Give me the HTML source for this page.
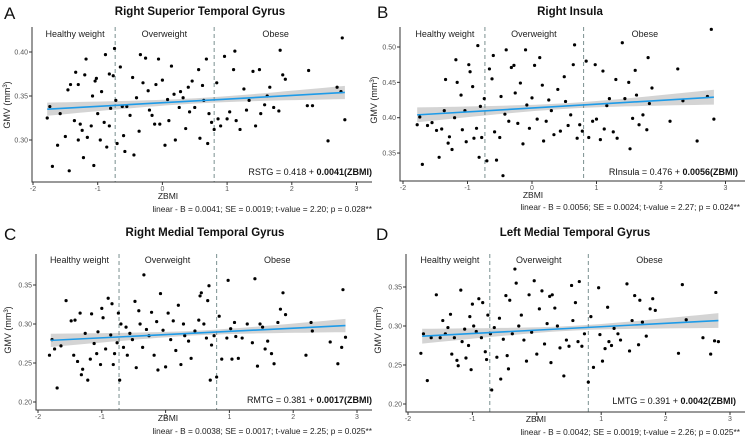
<!DOCTYPE html>
<html><head><meta charset="utf-8"><style>
html,body{margin:0;padding:0;background:#fff;}
svg{display:block;font-family:"Liberation Sans",Arial,sans-serif;}
</style></head><body>
<svg id="fig" width="746" height="442" viewBox="0 0 746 442" xmlns="http://www.w3.org/2000/svg"></svg>
<script>
const xTicks=[-2,-1,0,1,2,3];
const cutoffs=[-0.73,0.8];
const regionLabels=["Healthy weight","Overweight","Obese"];
const regionLabelX=[-1.35,0.03,1.75];
// Panel A
const aX=[-1.78,-1.74,-1.7,-1.62,-1.58,-1.5,-1.46,-1.44,-1.42,-1.36,-1.34,-1.3,-1.3,-1.27,-1.24,-1.22,-1.2,-1.18,-1.16,-1.1,-1.08,-1.06,-1.04,-1.02,-1.0,-0.96,-0.94,-0.9,-0.88,-0.86,-0.82,-0.82,-0.8,-0.76,-0.74,-0.72,-0.7,-0.65,-0.62,-0.6,-0.58,-0.55,-0.5,-0.46,-0.44,-0.4,-0.36,-0.34,-0.3,-0.26,-0.22,-0.2,-0.16,-0.12,-0.1,-0.06,-0.04,0.0,0.04,0.08,0.1,0.14,0.18,0.2,0.26,0.28,0.32,0.36,0.4,0.42,0.46,0.5,0.56,0.58,0.62,0.64,0.68,0.7,0.72,0.76,0.8,0.84,0.86,0.9,0.96,1.0,1.04,1.1,1.12,1.14,1.2,1.26,1.3,1.34,1.4,1.44,1.5,1.52,1.58,1.62,1.66,1.72,1.8,1.82,1.86,1.9,2.24,2.26,2.32,2.56,2.7,2.76,2.78,2.82];
const aY=[0.325,0.338,0.270,0.294,0.330,0.304,0.357,0.265,0.363,0.322,0.377,0.300,0.363,0.318,0.311,0.280,0.374,0.392,0.303,0.316,0.350,0.271,0.367,0.370,0.330,0.300,0.355,0.320,0.397,0.292,0.375,0.316,0.336,0.373,0.404,0.345,0.296,0.383,0.338,0.305,0.287,0.338,0.328,0.371,0.283,0.348,0.310,0.397,0.365,0.393,0.356,0.334,0.328,0.318,0.363,0.392,0.318,0.368,0.294,0.346,0.322,0.384,0.352,0.300,0.337,0.355,0.348,0.313,0.360,0.332,0.367,0.337,0.380,0.302,0.362,0.345,0.392,0.296,0.330,0.320,0.312,0.365,0.324,0.316,0.395,0.324,0.332,0.380,0.401,0.322,0.312,0.358,0.334,0.345,0.378,0.316,0.380,0.330,0.340,0.350,0.360,0.337,0.333,0.402,0.374,0.369,0.339,0.379,0.339,0.299,0.360,0.355,0.416,0.323];
// Panel B
const bX=[-1.78,-1.74,-1.7,-1.62,-1.55,-1.48,-1.44,-1.4,-1.36,-1.34,-1.3,-1.28,-1.24,-1.2,-1.18,-1.16,-1.1,-1.08,-1.04,-1.02,-0.98,-0.96,-0.92,-0.9,-0.86,-0.84,-0.82,-0.8,-0.78,-0.74,-0.7,-0.66,-0.62,-0.6,-0.58,-0.55,-0.5,-0.48,-0.45,-0.42,-0.4,-0.36,-0.32,-0.28,-0.26,-0.22,-0.18,-0.14,-0.1,-0.08,-0.04,0.0,0.04,0.08,0.12,0.16,0.18,0.22,0.26,0.3,0.34,0.4,0.44,0.5,0.52,0.56,0.6,0.64,0.66,0.7,0.74,0.78,0.84,0.88,0.94,0.98,1.0,1.06,1.1,1.12,1.16,1.2,1.26,1.3,1.32,1.4,1.44,1.5,1.52,1.56,1.6,1.62,1.66,1.72,1.78,1.8,1.82,1.86,2.14,2.26,2.34,2.56,2.72,2.78,2.82];
const bY=[0.390,0.401,0.334,0.389,0.393,0.382,0.344,0.384,0.410,0.454,0.364,0.373,0.355,0.400,0.482,0.450,0.432,0.383,0.410,0.366,0.475,0.465,0.444,0.371,0.385,0.502,0.344,0.416,0.372,0.427,0.339,0.469,0.455,0.488,0.380,0.340,0.372,0.430,0.318,0.405,0.496,0.395,0.471,0.474,0.435,0.392,0.449,0.363,0.496,0.418,0.385,0.428,0.474,0.398,0.485,0.446,0.367,0.395,0.425,0.410,0.376,0.440,0.381,0.458,0.423,0.389,0.404,0.475,0.503,0.371,0.390,0.381,0.480,0.372,0.395,0.475,0.398,0.369,0.466,0.384,0.417,0.427,0.380,0.454,0.371,0.506,0.427,0.450,0.356,0.399,0.467,0.432,0.390,0.404,0.383,0.485,0.420,0.442,0.395,0.469,0.424,0.367,0.430,0.525,0.398];
// Panel C
const cX=[-1.82,-1.78,-1.74,-1.7,-1.64,-1.56,-1.48,-1.44,-1.42,-1.38,-1.34,-1.32,-1.3,-1.26,-1.22,-1.18,-1.16,-1.12,-1.08,-1.06,-1.02,-1.0,-0.98,-0.94,-0.9,-0.86,-0.84,-0.82,-0.8,-0.76,-0.74,-0.72,-0.7,-0.66,-0.62,-0.6,-0.56,-0.52,-0.48,-0.46,-0.42,-0.4,-0.36,-0.34,-0.3,-0.26,-0.22,-0.18,-0.14,-0.12,-0.08,-0.04,0.0,0.04,0.08,0.12,0.16,0.2,0.24,0.28,0.3,0.36,0.4,0.46,0.52,0.54,0.56,0.6,0.64,0.66,0.68,0.7,0.72,0.76,0.8,0.84,0.88,0.96,0.98,1.02,1.04,1.08,1.1,1.14,1.2,1.28,1.36,1.4,1.44,1.48,1.52,1.56,1.6,1.66,1.7,1.76,1.8,1.84,1.88,2.2,2.28,2.3,2.58,2.7,2.76,2.78,2.82];
const cY=[0.260,0.280,0.268,0.218,0.272,0.330,0.304,0.260,0.305,0.252,0.314,0.235,0.242,0.288,0.228,0.255,0.313,0.275,0.262,0.290,0.248,0.320,0.308,0.268,0.333,0.286,0.326,0.248,0.262,0.276,0.314,0.228,0.300,0.270,0.296,0.260,0.288,0.280,0.329,0.244,0.317,0.300,0.270,0.363,0.293,0.285,0.315,0.260,0.303,0.241,0.339,0.292,0.245,0.314,0.280,0.304,0.266,0.324,0.248,0.300,0.285,0.278,0.256,0.291,0.305,0.336,0.340,0.300,0.282,0.330,0.349,0.228,0.273,0.285,0.232,0.310,0.255,0.282,0.356,0.294,0.255,0.302,0.284,0.256,0.282,0.300,0.276,0.358,0.246,0.300,0.296,0.268,0.278,0.262,0.249,0.302,0.319,0.340,0.312,0.260,0.302,0.291,0.277,0.249,0.270,0.344,0.283];
// Panel D
const dX=[-1.8,-1.76,-1.7,-1.64,-1.56,-1.5,-1.46,-1.42,-1.38,-1.34,-1.32,-1.28,-1.24,-1.22,-1.18,-1.16,-1.12,-1.1,-1.06,-1.04,-1.02,-1.0,-0.98,-0.94,-0.9,-0.86,-0.84,-0.8,-0.78,-0.76,-0.72,-0.7,-0.66,-0.62,-0.58,-0.56,-0.52,-0.48,-0.46,-0.44,-0.42,-0.38,-0.34,-0.32,-0.28,-0.24,-0.2,-0.16,-0.12,-0.08,-0.04,0.0,0.04,0.08,0.12,0.16,0.2,0.22,0.24,0.28,0.32,0.36,0.42,0.46,0.5,0.54,0.56,0.6,0.64,0.66,0.7,0.74,0.8,0.84,0.88,0.96,0.98,1.02,1.06,1.1,1.12,1.16,1.2,1.26,1.3,1.4,1.44,1.48,1.52,1.58,1.6,1.64,1.7,1.76,1.8,1.84,2.2,2.26,2.32,2.58,2.7,2.76,2.78,2.82];
const dY=[0.265,0.290,0.230,0.285,0.340,0.285,0.307,0.290,0.298,0.315,0.264,0.285,0.256,0.249,0.346,0.280,0.296,0.259,0.275,0.312,0.244,0.328,0.300,0.293,0.335,0.285,0.330,0.267,0.257,0.314,0.290,0.218,0.298,0.260,0.310,0.232,0.283,0.339,0.262,0.245,0.333,0.290,0.373,0.355,0.300,0.314,0.282,0.255,0.340,0.292,0.358,0.264,0.322,0.345,0.277,0.303,0.338,0.253,0.340,0.323,0.300,0.272,0.236,0.282,0.274,0.352,0.307,0.330,0.280,0.357,0.274,0.290,0.228,0.312,0.247,0.349,0.289,0.255,0.271,0.324,0.280,0.275,0.297,0.290,0.282,0.354,0.268,0.307,0.339,0.276,0.333,0.305,0.287,0.322,0.335,0.320,0.265,0.353,0.308,0.285,0.264,0.281,0.343,0.280];
const fitA=[[-1.78,2.82],[0.335,0.354],[0.0075,0.003]];
const fitB=[[-1.78,2.82],[0.404,0.429],[0.0105,0.004]];
const fitC=[[-1.8,2.82],[0.279,0.298],[0.0085,0.003]];
const fitD=[[-1.78,2.82],[0.287,0.307],[0.0095,0.003]];
const yTicksA=[0.30,0.35,0.40], yTicksB=[0.35,0.40,0.45,0.50], yTicksCD=[0.20,0.25,0.30,0.35];

const NS="http://www.w3.org/2000/svg";
const svg=document.getElementById('fig');
function mk(tag,attrs,parent,text){const e=document.createElementNS(NS,tag);for(const k in attrs)e.setAttribute(k,attrs[k]);if(text!==undefined)e.textContent=text;(parent||svg).appendChild(e);return e;}

const panels=[
 {id:'a',letter:'A',title:'Right Superior Temporal Gyrus',xs:aX,ys:aY,fit:fitA,yt:yTicksA,x0:33,xu:64.7,left:32,right:372,axY:182,top:27,y0:52,yv:0.40,yu:880,lx:4,ly:19,tx:200,ty:15,regY:37,eq:['RSTG = 0.418 + ','0.0041(ZBMI)'],eqX:372,eqY:175,zx:168,zy:199,lin:'linear - B = 0.0041; SE = 0.0019; t-value = 2.20; p = 0.028**',linX:372,linY:212,ytx:10,yty:105},
 {id:'b',letter:'B',title:'Right Insula',xs:bX,ys:bY,fit:fitB,yt:yTicksB,x0:403,xu:64.5,left:400,right:745,axY:181,top:27,y0:47,yv:0.50,yu:707,lx:377,ly:18,tx:570,ty:15,regY:37,eq:['RInsula = 0.476 + ','0.0056(ZBMI)'],eqX:738,eqY:175,zx:533,zy:198,lin:'linear - B = 0.0056; SE = 0.0024; t-value = 2.27; p = 0.024**',linX:740,linY:210,ytx:377,yty:100},
 {id:'c',letter:'C',title:'Right Medial Temporal Gyrus',xs:cX,ys:cY,fit:fitC,yt:yTicksCD,x0:38,xu:63.8,left:36,right:372,axY:410,top:254,y0:324,yv:0.30,yu:780,lx:4,ly:240,tx:205,ty:236,regY:263,eq:['RMTG  = 0.381 + ','0.0017(ZBMI)'],eqX:372,eqY:403,zx:168,zy:421,lin:'linear - B = 0.0038; SE = 0.0017; t-value = 2.25; p = 0.025**',linX:372,linY:434,ytx:11,yty:330},
 {id:'d',letter:'D',title:'Left Medial Temporal Gyrus',xs:dX,ys:dY,fit:fitD,yt:yTicksCD,x0:408,xu:64.4,left:406,right:745,axY:412,top:254,y0:326,yv:0.30,yu:780,lx:376,ly:240,tx:575,ty:236,regY:263,eq:['LMTG  = 0.391 + ','0.0042(ZBMI)'],eqX:736,eqY:404,zx:536,zy:422,lin:'linear - B = 0.0042; SE = 0.0019; t-value = 2.26; p = 0.025**',linX:740,linY:435,ytx:381,yty:330}
];

panels.forEach(p=>{
 const X=v=>p.x0+(v+2)*p.xu;
 const Y=v=>p.y0+(p.yv-v)*p.yu;
 const g=mk('g',{});
 
 
 const L=mk('text',{x:p.lx,y:p.ly,'font-size':17,fill:'#111'},g,p.letter);
 
 const T=mk('text',{x:p.tx,y:p.ty,'font-size':11.5,'font-weight':'bold','text-anchor':'middle',fill:'#111'},g,p.title);
 
 const f=p.fit, n=30; let up=[],dn=[];
 for(let i=0;i<=n;i++){const t=i/n;const xv=f[0][0]+(f[0][1]-f[0][0])*t;const yv=f[1][0]+(f[1][1]-f[1][0])*t;
  const mid=(f[0][0]+f[0][1])/2, hw=(f[0][1]-f[0][0])/2;const r=(xv-mid)/hw;const h=Math.sqrt(f[2][1]*f[2][1]+(f[2][0]*f[2][0]-f[2][1]*f[2][1])*r*r);
  up.push(X(xv).toFixed(1)+','+Y(yv+h).toFixed(1));dn.unshift(X(xv).toFixed(1)+','+Y(yv-h).toFixed(1));}
 const band=mk('polygon',{points:up.concat(dn).join(' '),fill:'#d4d4d4'},g);
 
 cutoffs.forEach(c=>{const l=mk('line',{x1:X(c),x2:X(c),y1:p.top,y2:p.axY,stroke:'#7a9090','stroke-width':1,'stroke-dasharray':'4,3'},g);
  });
 regionLabels.forEach((t,i)=>{const e=mk('text',{x:X(regionLabelX[i]),y:p.regY,'font-size':9,'text-anchor':'middle',fill:'#222'},g,t);
  });
 p.xs.forEach((xv,i)=>{const c=mk('circle',{cx:X(xv),cy:Y(p.ys[i]),r:1.6,fill:'#000'},g);
  });
 const fl=mk('line',{x1:X(f[0][0]),y1:Y(f[1][0]),x2:X(f[0][1]),y2:Y(f[1][1]),stroke:'#1e9be8','stroke-width':1.6},g);
 
 const ax=mk('path',{d:`M${p.left},${p.top} V${p.axY} H${p.right}`,stroke:'#333','stroke-width':1,fill:'none'},g);
 
 xTicks.forEach(t=>{mk('line',{x1:X(t),x2:X(t),y1:p.axY,y2:p.axY+3,stroke:'#333'},g);
  const e=mk('text',{x:X(t),y:p.axY+9,'font-size':7,'text-anchor':'middle',fill:'#555'},g,String(t));
  });
 p.yt.forEach(t=>{mk('line',{x1:p.left-3,x2:p.left,y1:Y(t),y2:Y(t),stroke:'#333'},g);
  const e=mk('text',{x:p.left-4,y:Y(t)+2.5,'font-size':7,'text-anchor':'end',fill:'#555'},g,t.toFixed(2));
  });
 const yt=mk('text',{x:p.ytx,y:p.yty,'font-size':9,'text-anchor':'middle',fill:'#222',transform:`rotate(-90 ${p.ytx} ${p.yty})`},g);
 
 yt.appendChild(document.createTextNode('GMV (mm'));mk('tspan',{'font-size':6,dy:-3},yt,'3');mk('tspan',{dy:3},yt,')');
 const eq=mk('text',{x:p.eqX,y:p.eqY,'font-size':9,'text-anchor':'end',fill:'#111'},g);
 
 mk('tspan',{},eq,p.eq[0]);mk('tspan',{'font-weight':'bold'},eq,p.eq[1]);
 const zx=mk('text',{x:p.zx,y:p.zy,'font-size':8.5,'text-anchor':'middle',fill:'#222'},g,'ZBMI');
 
 const ln=mk('text',{x:p.linX,y:p.linY,'font-size':8.3,'text-anchor':'end',fill:'#222'},g,p.lin);
 
});
</script>
</body></html>
